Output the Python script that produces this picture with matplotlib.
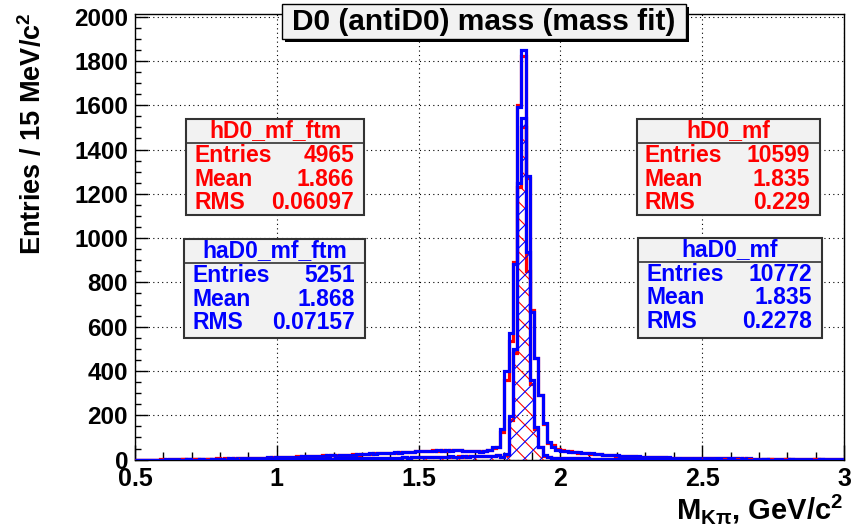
import numpy as np
import matplotlib.pyplot as plt
from matplotlib.patches import Rectangle

plt.rcParams['font.family'] = ['Liberation Sans', 'DejaVu Sans']
plt.rcParams['font.weight'] = 'bold'
plt.rcParams['mathtext.fontset'] = 'custom'
plt.rcParams['mathtext.rm'] = 'Liberation Sans:bold'
plt.rcParams['mathtext.it'] = 'Liberation Sans:bold'
plt.rcParams['mathtext.bf'] = 'Liberation Sans:bold'
plt.rcParams['hatch.linewidth'] = 0.8

# binning: 167 bins of ~15 MeV between 0.5 and 3.0 GeV
edges = np.linspace(0.5, 3.0, 168)

# hD0_mf (red, all candidates)
h_mf = [0, 0, 0, 0, 0, 0, 1, 0, 1, 2,
        3, 4, 2, 2, 3, 2, 4, 3, 3, 5,
        3, 5, 4, 6, 5, 7, 5, 6, 8, 7,
        8, 9, 11, 10, 12, 10, 13, 12, 14, 13,
        14, 16, 15, 17, 19, 18, 20, 21, 19, 23,
        22, 24, 23, 26, 25, 27, 29, 28, 31, 30,
        32, 31, 34, 33, 36, 35, 37, 39, 38, 40,
        42, 41, 43, 40, 44, 42, 45, 41, 39, 40,
        41, 38, 37, 45, 52, 56,
        125, 360, 535, 890, 1600, 1820, 1270, 677, 460, 292, 160,
        75, 65, 48, 42, 39, 37, 34, 32, 32, 29,
        27, 27, 24, 22, 21, 21, 18, 17, 16, 15,
        15, 13, 13, 12, 11, 12, 10, 10, 9, 9,
        8, 9, 7, 8, 7, 6, 7, 6, 6, 5,
        5, 6, 5, 4, 5, 4, 5, 4, 4, 4,
        4, 3, 4, 3, 4, 3, 3, 4, 3, 3,
        3, 2, 3, 3, 2, 3, 2, 3, 2, 2]

# haD0_mf (blue, all candidates)
ha_mf = [0, 0, 0, 0, 0, 0, 0, 1, 2, 1,
         2, 1, 3, 2, 2, 3, 2, 3, 4, 3,
         4, 3, 5, 4, 6, 5, 6, 7, 6, 8,
         9, 10, 9, 11, 10, 12, 11, 13, 12, 14,
         15, 14, 16, 18, 17, 19, 20, 18, 21, 22,
         23, 21, 25, 24, 26, 28, 27, 29, 30, 28,
         31, 33, 32, 35, 34, 36, 38, 37, 40, 41,
         39, 42, 40, 43, 41, 44, 42, 40, 38, 41,
         39, 36, 40, 43, 55, 58,
         140, 400, 570, 885, 1590, 1850, 1282, 665, 460, 290, 165,
         80, 55, 44, 40, 38, 36, 35, 33, 31, 30,
         28, 26, 25, 23, 22, 20, 19, 18, 17, 16,
         15, 14, 13, 13, 12, 11, 11, 10, 10, 9,
         9, 8, 8, 8, 7, 7, 7, 6, 6, 6,
         6, 5, 5, 5, 5, 5, 4, 5, 4, 4,
         4, 4, 4, 4, 3, 4, 3, 3, 4, 3,
         3, 3, 3, 3, 3, 2, 3, 2, 3, 2]

# hD0_mf_ftm (red, hatched)
h_ftm = [0, 0, 0, 0, 0, 0, 0, 0, 0, 0,
         0, 1, 0, 0, 1, 0, 0, 1, 0, 0,
         0, 1, 0, 1, 1, 0, 1, 1, 2, 1,
         1, 2, 2, 1, 2, 3, 2, 2, 3, 3,
         3, 3, 4, 4, 3, 5, 4, 5, 4, 5,
         6, 5, 6, 6, 7, 6, 7, 8, 7, 8,
         8, 9, 9, 10, 9, 10, 10, 11, 11, 12,
         11, 12, 12, 13, 13, 12, 14, 13, 14, 14,
         15, 14, 15, 16, 17, 19,
         10, 22, 180, 480, 1230, 1500, 850, 340, 140, 55, 18,
         11, 9, 8, 7, 6, 6, 5, 5, 5, 4,
         4, 4, 3, 3, 3, 3, 2, 3, 2, 2,
         2, 2, 1, 2, 1, 1, 1, 1, 1, 1,
         1, 0, 1, 1, 0, 1, 1, 0, 1, 0,
         0, 1, 0, 0, 1, 0, 0, 1, 0, 0,
         0, 0, 1, 0, 0, 0, 1, 0, 0, 0,
         0, 0, 0, 1, 0, 0, 0, 0, 0, 0]

# haD0_mf_ftm (blue, hatched)
ha_ftm = [0, 0, 0, 0, 0, 0, 0, 0, 0, 0,
          0, 0, 1, 0, 0, 1, 0, 0, 1, 0,
          1, 0, 1, 1, 0, 1, 1, 2, 1, 1,
          2, 1, 2, 2, 3, 2, 2, 3, 2, 3,
          3, 4, 3, 4, 4, 5, 4, 5, 5, 6,
          5, 6, 6, 7, 6, 7, 8, 7, 8, 8,
          9, 8, 9, 10, 9, 10, 11, 10, 12, 11,
          12, 11, 13, 12, 14, 13, 12, 14, 13, 15,
          14, 15, 16, 15, 18, 20,
          12, 25, 195, 500, 1250, 1540, 935, 360, 148, 58, 20,
          12, 9, 8, 7, 7, 6, 6, 5, 5, 5,
          4, 4, 4, 3, 3, 3, 3, 3, 2, 2,
          2, 2, 2, 2, 1, 2, 1, 1, 1, 1,
          1, 1, 1, 1, 1, 1, 0, 1, 1, 0,
          1, 0, 0, 1, 0, 0, 1, 0, 0, 0,
          0, 1, 0, 0, 0, 0, 0, 1, 0, 0,
          0, 0, 0, 0, 1, 0, 0, 0, 0, 0]

# statistics boxes: name, entries, mean, rms
stat_names = ["hD0_mf_ftm", "haD0_mf_ftm", "hD0_mf", "haD0_mf"]
stat_entries = ["4965", "5251", "10599", "10772"]
stat_means = ["1.866", "1.868", "1.835", "1.835"]
stat_rms = ["0.06097", "0.07157", "0.229", "0.2278"]
stat_colors = ["#ff0000", "#0000ff", "#ff0000", "#0000ff"]

W, H = 852, 531
RED, BLUE = "#ff0000", "#0000ff"

fig = plt.figure(figsize=(W / 100, H / 100), dpi=100)
# axes frame in pixels: left 135, right 844, top 13.5, bottom 459.6
ax = fig.add_axes([135 / W, 1 - 459.6 / H, (844 - 135) / W, (459.6 - 13.5) / H])
ax.set_xlim(0.5, 3.0)
ax.set_ylim(0, 2014)

ax.stairs(h_mf, edges, color=RED, lw=2.3, zorder=3)
ax.stairs(ha_mf, edges, color=BLUE, lw=2.3, zorder=4)
ax.stairs(h_ftm, edges, fill=True, facecolor='none', edgecolor=RED, hatch='\\\\', lw=0, zorder=5)
ax.stairs(h_ftm, edges, color=RED, lw=2.3, zorder=5)
ax.stairs(ha_ftm, edges, fill=True, facecolor='none', edgecolor=BLUE, hatch='//', lw=0, zorder=6)
ax.stairs(ha_ftm, edges, color=BLUE, lw=2.3, zorder=6)

ax.set_xticks(np.arange(0.5, 3.01, 0.5))
ax.set_xticks(np.arange(0.5, 3.01, 0.1), minor=True)
ax.set_yticks(np.arange(0, 2001, 200))
ax.set_yticks(np.arange(0, 2001, 50), minor=True)
ax.set_xticklabels(["0.5", "1", "1.5", "2", "2.5", "3"])
ax.tick_params(axis='x', which='major', direction='in', length=11, width=1, labelsize=18, pad=5)
ax.tick_params(axis='x', which='minor', direction='in', length=5.5, width=1)
ax.tick_params(axis='y', which='major', direction='in', length=9, width=1, labelsize=17.5, pad=5)
ax.tick_params(axis='y', which='minor', direction='in', length=4.5, width=1)
ax.grid(True, which='major', color='black', linestyle=(0, (1, 3)), lw=0.8)
ax.set_axisbelow(True)
for s in ax.spines.values():
    s.set_linewidth(1.0)


def px(x, y):
    return x / W, 1 - y / H


# y and x axis titles
fig.text(*px(33, 12), "Entries / 15 MeV/c$^2$", rotation=90, ha='center', va='top',
         fontsize=19.5, fontweight='bold')
fig.text(*px(843, 509), "M$_{K\\pi}$, GeV/c$^2$", ha='right', va='center',
         fontsize=21, fontweight='bold')

# title box with shadow
tx0, ty0, tx1, ty1 = 282, 4, 686, 39
fig.patches.append(Rectangle(px(tx0 + 3, ty1 + 3), (tx1 - tx0) / W, (ty1 - ty0) / H,
                             transform=fig.transFigure, facecolor='black', edgecolor='none', zorder=10))
fig.patches.append(Rectangle(px(tx0, ty1), (tx1 - tx0) / W, (ty1 - ty0) / H,
                             transform=fig.transFigure, facecolor='#f2f2f2', edgecolor='black',
                             lw=1, zorder=11))
fig.text(*px((tx0 + tx1) / 2, (ty0 + ty1) / 2 + 1), "D0 (antiD0) mass (mass fit)", ha='center',
         va='center', fontsize=21.5, fontweight='bold', zorder=12)

# stat boxes (x0, y0, x1, y1) in pixels
boxes = [(186, 119, 364, 215), (184, 239, 365, 338), (637, 119, 820, 215), (638, 238, 822, 338)]
for i, (x0, y0, x1, y1) in enumerate(boxes):
    c = stat_colors[i]
    fig.patches.append(Rectangle(px(x0, y1), (x1 - x0) / W, (y1 - y0) / H, transform=fig.transFigure,
                                 facecolor='#f2f2f2', edgecolor='#333333', lw=1.5, zorder=10))
    sep = y0 + 24
    fig.lines.append(plt.Line2D([x0 / W, x1 / W], [1 - sep / H, 1 - sep / H], transform=fig.transFigure,
                                color='#333333', lw=1.2, zorder=11))
    fig.text(*px((x0 + x1) / 2, y0 + 11.5), stat_names[i], ha='center', va='center', color=c,
             fontsize=16.5, fontweight='bold', zorder=12)
    rows = [("Entries", stat_entries[i]), ("Mean", stat_means[i]), ("RMS", stat_rms[i])]
    for j, (lab, val) in enumerate(rows):
        yy = sep + 12.5 + j * 23.5
        fig.text(*px(x0 + 8, yy), lab, ha='left', va='center', color=c, fontsize=16.5,
                 fontweight='bold', zorder=12)
        fig.text(*px(x1 - 10, yy), val, ha='right', va='center', color=c, fontsize=16.5,
                 fontweight='bold', zorder=12)

fig.savefig("out.png", dpi=100)
